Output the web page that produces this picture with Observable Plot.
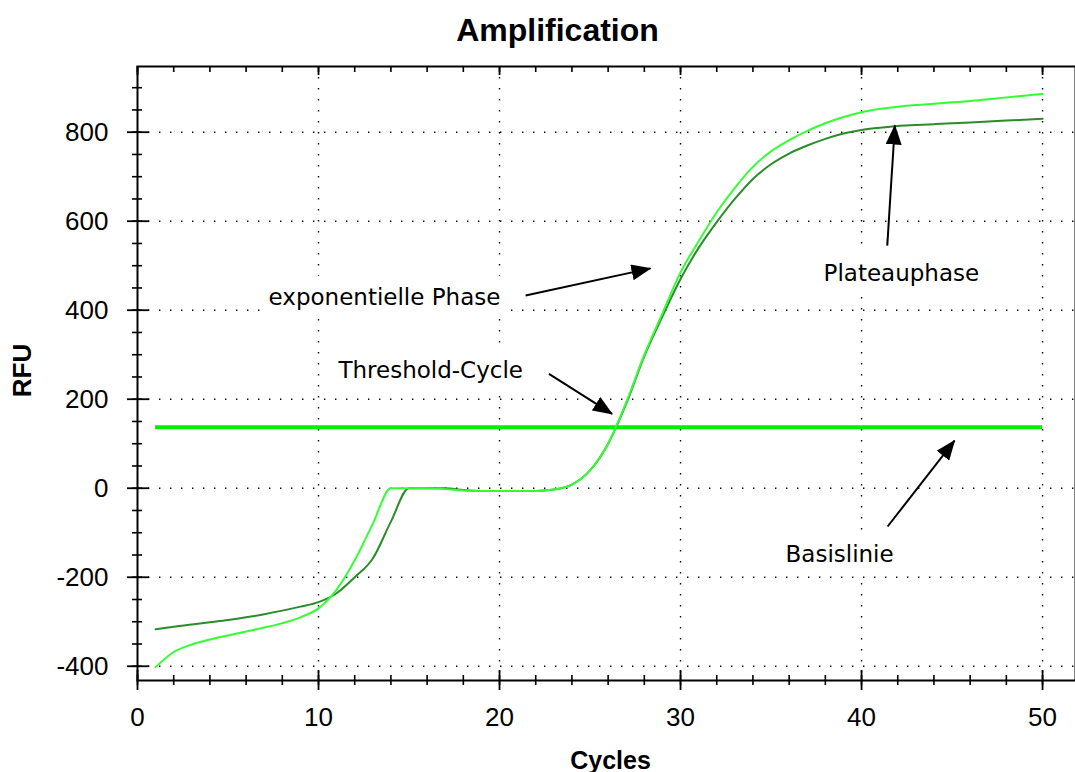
<!DOCTYPE html>
<html>
<head>
<meta charset="utf-8">
<script src="https://cdn.jsdelivr.net/npm/d3@7"></script>
<script src="https://cdn.jsdelivr.net/npm/@observablehq/plot@0.6"></script>
<style>
  html, body { margin: 0; padding: 0; background: #fff; }
  svg { display: block; }
</style>
</head>
<body>
<div id="chart"></div>
<script>
// ---- data ----
const cycles = [1,2,3,4,5,6,7,8,9,10,11,12,13,14,15,16,17,18,19,20,21,22,23,24,25,
                26,27,28,29,30,31,32,33,34,35,36,37,38,39,40,41,42,43,44,45,46,47,48,49,50];
const lightRFU = [-402,-368,-351,-340,-331,-322,-313,-303,-290,-270,
                  -228,-162,-80,0,0,0,-2,-5,-6,-6,
                  -6,-6,-3,8,40,100,193,300,393,485,
                  555,620,675,722,757,782,803,820,834,845,
                  852,857,861,864,867,870,874,878,882,886];
const darkRFU = [-317,-311,-306,-301,-296,-290,-283,-275,-266,-256,
                 -236,-200,-158,-75,0,0,0,-4,-6,-6,
                 -6,-6,-3,8,40,100,190,297,386,470,
                 540,598,650,695,728,752,770,785,797,805,
                 810,814,816,818,820,822,824,826,828,830];
const thresholdRFU = 137;

const xTicks = [0,10,20,30,40,50];
const xMinorTicks = [0,2,4,6,8,10,12,14,16,18,20,22,24,26,28,30,32,34,36,38,40,42,44,46,48,50];
const yTicks = [-400,-200,0,200,400,600,800];
const yMinorTicks = [-400,-350,-300,-250,-200,-150,-100,-50,0,50,100,150,200,250,300,350,
                     400,450,500,550,600,650,700,750,800,850,900];

const titleText = "Amplification";
const xLabel = "Cycles";
const yLabel = "RFU";

const annotationLabels = ["exponentielle Phase", "Threshold-Cycle", "Plateauphase", "Basislinie"];
const annotationCycle = [7.24, 11.1, 37.9, 35.8];
const annotationRFU = [429, 265, 482, -150];

const arrowFromCycle = [21.44, 22.73, 41.42, 41.44];
const arrowFromRFU = [433, 257, 545, -86];
const arrowToCycle = [28.34, 26.22, 41.84, 45.14];
const arrowToRFU = [494, 167, 815, 107];

// ---- tables built from the arrays ----
const lightSeries = cycles.map((c, i) => ({cycle: c, rfu: lightRFU[i]}));
const darkSeries = cycles.map((c, i) => ({cycle: c, rfu: darkRFU[i]}));

const labelFont = "'Liberation Sans', Arial, sans-serif";
const annFont = "'DejaVu Sans', Tahoma, Verdana, sans-serif";

const frameW = 1075 - 137;
const frameH = 680 - 66;

const plot = Plot.plot({
  width: 1075,
  height: 772,
  marginLeft: 137,
  marginRight: 0,
  marginTop: 66,
  marginBottom: 92,
  style: {background: "#fff", overflow: "visible"},
  x: {domain: [0, 51.82]},
  y: {domain: [-432, 947.6]},
  marks: [
    // grid
    Plot.gridX(xTicks.filter(d => d > 0), {stroke: "#000", strokeOpacity: 1, strokeWidth: 1.4, strokeDasharray: "1.4,9.6"}),
    Plot.gridY(yTicks, {stroke: "#000", strokeOpacity: 1, strokeWidth: 1.4, strokeDasharray: "1.4,9.6"}),
    // annotations text (boxes added after render)
    Plot.text(annotationLabels, {
      x: (d, i) => annotationCycle[i], y: (d, i) => annotationRFU[i], text: d => d,
      textAnchor: "start", fontSize: 23, fontFamily: annFont, fill: "#000"
    }),
    // threshold line
    Plot.ruleY([thresholdRFU], {x1: cycles[0], x2: cycles[cycles.length - 1], stroke: "#00ee00", strokeWidth: 4}),
    // curves
    Plot.line(darkSeries, {x: "cycle", y: "rfu", stroke: "#2a8c2a", strokeWidth: 2, curve: "monotone-x"}),
    Plot.line(lightSeries, {x: "cycle", y: "rfu", stroke: "#33ff33", strokeWidth: 2, curve: "monotone-x"}),
    // frame / axes lines
    Plot.frame({stroke: "#000", strokeWidth: 2}),
    // bottom ticks (crossing)
    Plot.tickX(xMinorTicks, {x: d => d, stroke: "#000", strokeWidth: 1.6, insetTop: frameH - 5, insetBottom: -5}),
    Plot.tickX(xTicks, {x: d => d, stroke: "#000", strokeWidth: 1.8, insetTop: frameH - 10, insetBottom: -10}),
    // top ticks (inward)
    Plot.tickX(xMinorTicks, {x: d => d, stroke: "#000", strokeWidth: 1.6, insetTop: 0, insetBottom: frameH - 6}),
    Plot.tickX(xTicks, {x: d => d, stroke: "#000", strokeWidth: 1.8, insetTop: 0, insetBottom: frameH - 9}),
    // left ticks (crossing)
    Plot.tickY(yMinorTicks, {y: d => d, stroke: "#000", strokeWidth: 1.6, insetLeft: -5, insetRight: frameW - 5}),
    Plot.tickY(yTicks, {y: d => d, stroke: "#000", strokeWidth: 1.8, insetLeft: -10, insetRight: frameW - 12}),
    // tick labels
    Plot.axisX(xTicks, {anchor: "bottom", tickSize: 0, tickPadding: 27, fontSize: 26, fontFamily: labelFont,
      tickFormat: d => String(d), label: null}),
    Plot.axisY(yTicks, {anchor: "left", tickSize: 0, tickPadding: 29, fontSize: 26, fontFamily: labelFont,
      tickFormat: d => String(d), label: null}),
    // arrows
    Plot.link(arrowFromCycle, {
      x1: (d, i) => arrowFromCycle[i], y1: (d, i) => arrowFromRFU[i],
      x2: (d, i) => arrowToCycle[i], y2: (d, i) => arrowToRFU[i],
      stroke: "#000", strokeWidth: 2
    }),
    // titles
    Plot.text([titleText], {text: d => d, frameAnchor: "top", textAnchor: "middle", lineAnchor: "middle",
      dx: -49, dy: -36, fontSize: 32, fontWeight: "bold", fontFamily: labelFont, fill: "#000"}),
    Plot.text([xLabel], {text: d => d, frameAnchor: "bottom", textAnchor: "middle", lineAnchor: "middle",
      dx: 4, dy: 80, fontSize: 25, fontWeight: "bold", fontFamily: labelFont, fill: "#000"}),
    Plot.text([yLabel], {text: d => d, frameAnchor: "left", textAnchor: "middle", lineAnchor: "middle",
      dx: -115, dy: -3, rotate: -90, fontSize: 26, fontWeight: "bold", fontFamily: labelFont, fill: "#000"})
  ]
});

document.getElementById("chart").append(plot);

// ---- post-processing: white label boxes and filled arrow heads ----
const ns = "http://www.w3.org/2000/svg";
const svg = plot.tagName.toLowerCase() === "svg" ? plot : plot.querySelector("svg");

svg.querySelectorAll("text").forEach(t => {
  if (!annotationLabels.includes(t.textContent)) return;
  const b = t.getBBox();
  const r = document.createElementNS(ns, "rect");
  r.setAttribute("x", b.x - 7);
  r.setAttribute("y", b.y - 8);
  r.setAttribute("width", b.width + 14);
  r.setAttribute("height", b.height + 16);
  r.setAttribute("fill", "#fff");
  if (t.getAttribute("transform")) r.setAttribute("transform", t.getAttribute("transform"));
  t.parentNode.insertBefore(r, t);
});

const defs = document.createElementNS(ns, "defs");
const marker = document.createElementNS(ns, "marker");
marker.setAttribute("id", "arrowhead");
marker.setAttribute("viewBox", "0 0 20 16");
marker.setAttribute("refX", "19");
marker.setAttribute("refY", "8");
marker.setAttribute("markerUnits", "userSpaceOnUse");
marker.setAttribute("markerWidth", "20");
marker.setAttribute("markerHeight", "16");
marker.setAttribute("orient", "auto");
const head = document.createElementNS(ns, "path");
head.setAttribute("d", "M0,0L20,8L0,16Z");
head.setAttribute("fill", "#000");
head.setAttribute("stroke", "none");
marker.appendChild(head);
defs.appendChild(marker);
svg.insertBefore(defs, svg.firstChild);
svg.querySelectorAll('g[aria-label="link"] path').forEach(p => p.setAttribute("marker-end", "url(#arrowhead)"));
</script>
</body>
</html>
